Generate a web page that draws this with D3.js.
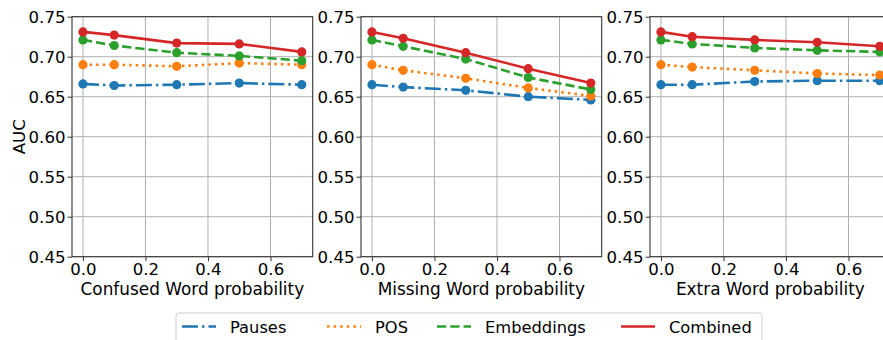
<!DOCTYPE html>
<meta charset="utf-8">
<script src="https://d3js.org/d3.v7.min.js"></script>
<style>
body { margin: 0; background: #fff; }
text { font-family: "DejaVu Sans", sans-serif; fill: #000; }
</style>
<div id="chart"></div>
<script>
// noise probabilities used on every panel
const probs = [0.0, 0.1, 0.3, 0.5, 0.7];
const panelLabels = ["Confused Word probability", "Missing Word probability", "Extra Word probability"];
const seriesNames = ["Pauses", "POS", "Embeddings", "Combined"];
const yTicks = [0.45, 0.50, 0.55, 0.60, 0.65, 0.70, 0.75];
const xTicks = [0.0, 0.2, 0.4, 0.6];

// AUC per panel, per series (Pauses, POS, Embeddings, Combined)
const confusedPauses = [0.666, 0.664, 0.665, 0.667, 0.665];
const confusedPOS = [0.690, 0.690, 0.688, 0.692, 0.690];
const confusedEmb = [0.721, 0.714, 0.705, 0.701, 0.695];
const confusedComb = [0.731, 0.727, 0.717, 0.716, 0.706];

const missingPauses = [0.665, 0.662, 0.658, 0.650, 0.646];
const missingPOS = [0.690, 0.683, 0.673, 0.661, 0.651];
const missingEmb = [0.721, 0.713, 0.697, 0.674, 0.659];
const missingComb = [0.731, 0.723, 0.705, 0.685, 0.667];

const extraPauses = [0.665, 0.665, 0.669, 0.670, 0.670];
const extraPOS = [0.690, 0.687, 0.683, 0.679, 0.677];
const extraEmb = [0.721, 0.716, 0.711, 0.708, 0.706];
const extraComb = [0.731, 0.725, 0.721, 0.718, 0.713];

const panels = [
  [confusedPauses, confusedPOS, confusedEmb, confusedComb],
  [missingPauses, missingPOS, missingEmb, missingComb],
  [extraPauses, extraPOS, extraEmb, extraComb]
];

const colors = ["#1f77b4", "#ff7f0e", "#2ca02c", "#d62728"];
const dashes = ["16,4,2.5,4", "2.5,4.1", "9.25,4", null];

const W = 883, H = 340;
const pw = 240.7, ph = 240, marginTop = 16.7;
const lefts = [72, 361, 650];

const svg = d3.select("#chart").append("svg")
  .attr("width", W).attr("height", H);

const x = d3.scaleLinear().domain([-0.035, 0.735]).range([0, pw]);
const y = d3.scaleLinear().domain([0.45, 0.75]).range([ph, 0]);

panels.forEach(function(series, pi) {
  const g = svg.append("g").attr("transform", `translate(${lefts[pi]},${marginTop})`);

  // grid
  g.selectAll(".vg").data(xTicks).enter().append("line")
    .attr("x1", d => x(d)).attr("x2", d => x(d))
    .attr("y1", 0).attr("y2", ph)
    .attr("stroke", "#b0b0b0").attr("stroke-width", 1);
  g.selectAll(".hg").data(yTicks).enter().append("line")
    .attr("x1", 0).attr("x2", pw)
    .attr("y1", d => y(d)).attr("y2", d => y(d))
    .attr("stroke", "#b0b0b0").attr("stroke-width", 1);

  // axes
  const yAxis = g.append("g").call(d3.axisLeft(y).tickValues(yTicks)
    .tickFormat(d3.format(".2f")).tickSize(4.5).tickPadding(2));
  const xAxis = g.append("g").attr("transform", `translate(0,${ph})`)
    .call(d3.axisBottom(x).tickValues(xTicks)
    .tickFormat(d3.format(".1f")).tickSize(4.5).tickPadding(2.5));
  [yAxis, xAxis].forEach(function(a) {
    a.select(".domain").remove();
    a.selectAll("text").style("font-size", "16.6px")
      .style("font-family", "DejaVu Sans, sans-serif").attr("fill", "#000");
    a.selectAll("line").attr("stroke", "#333").attr("stroke-width", 1);
  });

  // frame
  g.append("rect").attr("x", 0).attr("y", 0).attr("width", pw).attr("height", ph)
    .attr("fill", "none").attr("stroke", "#333").attr("stroke-width", 1.1);

  g.append("text").attr("x", pw / 2).attr("y", ph + 38)
    .attr("text-anchor", "middle").style("font-size", "16.9px")
    .text(panelLabels[pi]);

  if (pi === 0) {
    g.append("text").attr("transform", `translate(-47,${ph / 2}) rotate(-90)`)
      .attr("text-anchor", "middle").style("font-size", "16.6px").text("AUC");
  }

  const line = d3.line().x((d, i) => x(probs[i])).y(d => y(d));
  series.forEach(function(vals, si) {
    g.append("path").datum(vals)
      .attr("d", line).attr("fill", "none")
      .attr("stroke", colors[si]).attr("stroke-width", 2.6)
      .attr("stroke-dasharray", dashes[si]);
    g.selectAll(".pt" + si).data(vals).enter().append("circle")
      .attr("cx", (d, i) => x(probs[i])).attr("cy", d => y(d))
      .attr("r", 4.6).attr("fill", colors[si]);
  });
});

// legend
const leg = svg.append("g").attr("transform", "translate(176,313)");
leg.append("rect").attr("width", 586).attr("height", 40).attr("rx", 3)
  .attr("fill", "#fff").attr("fill-opacity", 0.8)
  .attr("stroke", "#cccccc").attr("stroke-width", 1);
const legX = [6, 151, 261, 445];
seriesNames.forEach(function(name, i) {
  const e = leg.append("g").attr("transform", `translate(${legX[i]},13.5)`);
  e.append("line").attr("x1", 0).attr("x2", 34).attr("y1", 0).attr("y2", 0)
    .attr("stroke", colors[i]).attr("stroke-width", 2.6)
    .attr("stroke-dasharray", dashes[i]);
  e.append("text").attr("x", 48).attr("y", 6).style("font-size", "16.3px").text(name);
});
</script>
